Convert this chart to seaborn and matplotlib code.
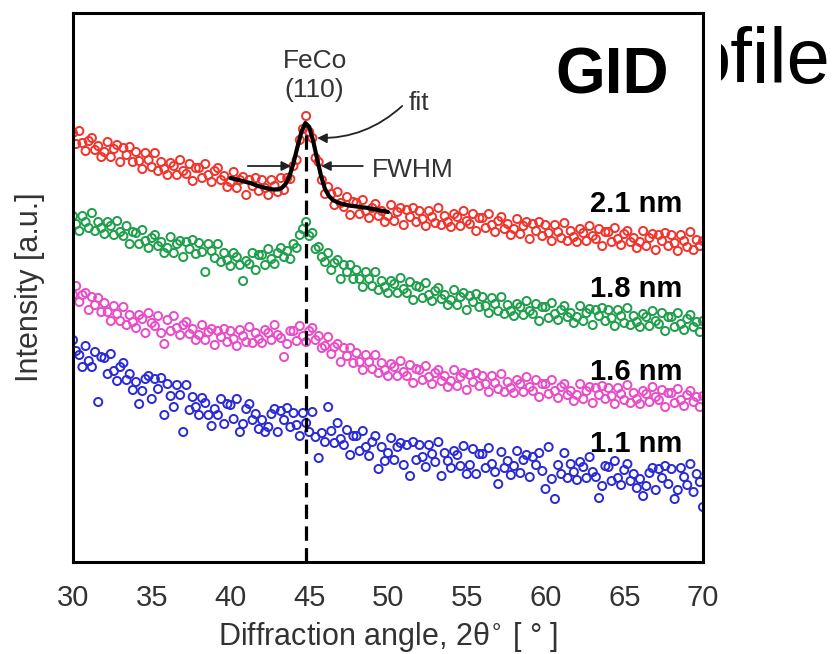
import numpy as np
import seaborn as sns
import matplotlib.pyplot as plt
from matplotlib.transforms import Bbox, TransformedBbox

sns.set_style("white")
plt.rcParams["font.family"] = ["Liberation Sans", "DejaVu Sans"]

# diffraction angle grid (deg), 0.2 deg steps
angle = np.round(np.linspace(30, 70, 201), 1)

# intensities (a.u.), each curve already offset vertically as in the figure
nm_21 = [
    429, 418, 431, 419, 411, 421, 424, 412, 416, 405,
    410, 420, 405, 413, 417, 400, 414, 407, 415, 400,
    410, 401, 393, 409, 402, 395, 409, 391, 400, 393,
    387, 399, 396, 387, 402, 391, 388, 398, 381, 394,
    394, 384, 398, 387, 380, 391, 394, 382, 386, 375,
    380, 390, 374, 382, 385, 367, 382, 376, 384, 371,
    382, 374, 367, 382, 376, 370, 384, 372, 384, 383,
    396, 402, 422, 433, 446, 430, 424, 404, 400, 382,
    368, 375, 368, 357, 370, 359, 355, 365, 347, 360,
    359, 348, 362, 351, 344, 354, 358, 346, 351, 340,
    346, 357, 341, 350, 354, 337, 352, 345, 354, 340,
    351, 343, 336, 351, 345, 339, 354, 337, 346, 340,
    335, 348, 345, 336, 351, 341, 338, 348, 331, 344,
    344, 334, 348, 337, 330, 341, 345, 333, 338, 327,
    333, 343, 328, 336, 340, 323, 338, 331, 340, 326,
    337, 329, 321, 337, 330, 324, 339, 321, 331, 325,
    320, 333, 329, 321, 336, 326, 323, 333, 316, 330,
    330, 320, 334, 323, 317, 328, 331, 320, 324, 314,
    320, 331, 316, 324, 328, 312, 327, 321, 329, 316,
    327, 319, 311, 327, 321, 315, 330, 312, 322, 316,
    321]

nm_18 = [
    346, 338, 331, 346, 340, 334, 349, 331, 340, 334,
    328, 340, 336, 327, 341, 330, 326, 336, 318, 330,
    329, 318, 332, 321, 314, 324, 327, 316, 320, 309,
    314, 325, 309, 318, 321, 305, 320, 313, 322, 308,
    319, 310, 290, 318, 311, 304, 318, 300, 309, 302,
    296, 309, 305, 297, 281, 301, 298, 309, 292, 307,
    307, 297, 313, 303, 298, 309, 314, 305, 311, 303,
    318, 314, 327, 333, 340, 326, 329, 313, 315, 305,
    300, 309, 292, 299, 302, 283, 297, 290, 297, 283,
    292, 283, 275, 290, 283, 276, 290, 272, 281, 275,
    269, 281, 278, 269, 284, 273, 269, 280, 262, 276,
    275, 264, 279, 267, 261, 271, 274, 263, 267, 257,
    262, 272, 257, 265, 269, 252, 266, 260, 268, 255,
    265, 256, 249, 264, 258, 251, 265, 248, 257, 251,
    246, 258, 255, 247, 261, 251, 248, 258, 241, 255,
    255, 244, 259, 248, 242, 252, 256, 245, 249, 239,
    245, 256, 241, 249, 253, 237, 252, 246, 254, 241,
    252, 244, 236, 252, 246, 239, 254, 237, 246, 240,
    235, 248, 245, 236, 251, 241, 238, 249, 231, 245,
    245, 235, 249, 238, 232, 243, 247, 235, 240, 230,
    241]

nm_16 = [
    267, 276, 260, 267, 269, 252, 265, 257, 264, 250,
    259, 250, 241, 256, 248, 241, 255, 237, 247, 240,
    234, 247, 243, 229, 249, 239, 236, 246, 229, 218,
    242, 231, 246, 234, 227, 237, 240, 228, 233, 222,
    227, 237, 222, 230, 233, 217, 231, 225, 233, 220,
    231, 223, 216, 232, 226, 220, 235, 219, 229, 223,
    219, 232, 229, 222, 237, 227, 224, 205, 218, 231,
    231, 221, 236, 226, 220, 231, 234, 222, 226, 214,
    216, 225, 208, 215, 218, 200, 214, 206, 214, 199,
    209, 200, 192, 207, 200, 193, 207, 189, 199, 192,
    186, 198, 195, 186, 201, 190, 186, 197, 179, 193,
    192, 182, 196, 185, 178, 189, 192, 181, 186, 175,
    181, 192, 176, 185, 189, 172, 187, 180, 189, 176,
    186, 178, 170, 186, 179, 173, 188, 170, 180, 174,
    169, 182, 178, 170, 185, 175, 171, 182, 165, 178,
    178, 168, 182, 171, 164, 175, 178, 167, 171, 161,
    167, 178, 163, 171, 175, 159, 174, 167, 176, 163,
    174, 166, 158, 174, 168, 162, 177, 159, 169, 163,
    158, 171, 168, 160, 175, 165, 162, 172, 155, 169,
    169, 159, 173, 162, 156, 167, 171, 160, 165, 155,
    166]

nm_11 = [
    222, 211, 207, 195, 216, 201, 195, 210, 160, 205,
    204, 188, 208, 191, 181, 195, 199, 182, 188, 172,
    180, 158, 171, 183, 186, 163, 183, 173, 184, 147,
    178, 166, 155, 177, 167, 130, 177, 152, 165, 155,
    147, 164, 159, 147, 136, 153, 147, 163, 138, 158,
    157, 143, 163, 130, 138, 153, 158, 142, 148, 133,
    142, 130, 135, 148, 153, 130, 151, 142, 154, 135,
    149, 137, 126, 149, 139, 130, 150, 125, 104, 129,
    120, 155, 131, 119, 139, 123, 117, 132, 107, 126,
    126, 111, 131, 115, 106, 120, 126, 93, 115, 101,
    109, 124, 102, 115, 119, 97, 117, 86, 120, 102,
    117, 105, 95, 117, 108, 100, 120, 86, 109, 101,
    94, 111, 107, 96, 116, 88, 97, 113, 88, 108,
    108, 94, 114, 98, 90, 78, 110, 94, 101, 87,
    96, 111, 89, 102, 107, 85, 105, 97, 109, 91,
    73, 115, 83, 63, 97, 88, 109, 84, 98, 90,
    82, 100, 95, 84, 105, 90, 85, 64, 76, 96,
    95, 81, 101, 84, 77, 92, 98, 81, 88, 74,
    83, 66, 76, 89, 94, 72, 93, 84, 96, 78,
    93, 63, 72, 94, 85, 77, 98, 70, 88, 80,
    55]

# peak fit on the 2.1 nm curve
fit_angle = np.round(np.linspace(40, 50, 41), 2)
fit_vals = [384, 383, 382, 381, 380, 379, 377.5, 376, 375, 374,
            373, 372.5, 372.5, 374, 378, 386, 399, 415, 430, 439,
            435, 421, 403, 386, 373, 366, 362, 360, 358.5, 357.5,
            356.5, 356, 355.5, 355, 354.5, 354, 353, 352.5, 351.5, 351,
            350]

peak_pos = 44.8
peak_top = 435

curves = [("2.1 nm", nm_21, "#f0342c"),
          ("1.8 nm", nm_18, "#1f9e4c"),
          ("1.6 nm", nm_16, "#e84cc6"),
          ("1.1 nm", nm_11, "#2a2ad6")]
label_base = {"2.1 nm": 350, "1.8 nm": 265, "1.6 nm": 182, "1.1 nm": 110}

fig = plt.figure(figsize=(8.34, 6.54), dpi=100)
ax = fig.add_axes([73 / 834, 1 - 562 / 654, 630 / 834, 549 / 654])

for name, vals, col in curves:
    sns.scatterplot(x=angle, y=vals, ax=ax, color=col, facecolors="none",
                    edgecolor=col, s=34, linewidth=1.4, legend=False, zorder=2)
    ax.text(68.7, label_base[name], name, ha="right", va="baseline",
            fontsize=21, fontweight="bold", color="black")

sns.lineplot(x=fit_angle, y=fit_vals, ax=ax, color="black", lw=3, zorder=3)
ax.vlines(peak_pos, 0, peak_top, colors="black", lw=2.3,
          linestyles=(0, (4.5, 2.3)), zorder=4)

txt = "#333333"
ax.text(45.35, 494, "FeCo", ha="center", va="baseline", fontsize=19, color=txt)
ax.text(45.3, 465, "(110)", ha="center", va="baseline", fontsize=19, color=txt)
ax.text(51.3, 452, "fit", ha="left", va="baseline", fontsize=19, color=txt)
ax.text(49.0, 385, "FWHM", ha="left", va="baseline", fontsize=19, color=txt)

arrow = dict(arrowstyle="-|>", color="#222222", lw=1.3, mutation_scale=14,
             shrinkA=0, shrinkB=0)
ax.annotate("", xy=(43.85, 396), xytext=(41.1, 396), arrowprops=arrow)
ax.annotate("", xy=(45.75, 396), xytext=(48.4, 396), arrowprops=arrow)
ax.annotate("", xy=(45.5, 424), xytext=(50.9, 456),
            arrowprops=dict(arrow, connectionstyle="arc3,rad=-0.2"))

ax.text(64.2, 468, "GID", ha="center", va="baseline", fontsize=46,
        fontweight="bold", color="black")

ax.set_xlim(30, 70)
ax.set_ylim(0, 549)
ax.set_xticks(range(30, 71, 5))
ax.set_yticks(np.arange(1, 7) * 78.4)
ax.tick_params(direction="inout", length=12, width=2.2, color="black",
               labelcolor=txt, labelsize=21, pad=10, labelleft=False)
for sp in ax.spines.values():
    sp.set_linewidth(2.2)
    sp.set_color("black")

ax.set_xlabel("Diffraction angle, 2θ$^{\\circ}$ [ ° ]", fontsize=22, color=txt)
ax.set_ylabel("Intensity [a.u.]", fontsize=22, color=txt)
ax.xaxis.set_label_coords(0.5, -0.105)
ax.yaxis.set_label_coords(-0.045, 0.5)

# slide title text peeking out behind the chart (only its tail is visible)
prof = fig.text(831 / 834, 1 - 83 / 654, "ofile", ha="right", va="baseline",
                fontsize=56, color="black")
prof.set_clip_box(TransformedBbox(Bbox.from_extents(721 / 834, 0, 1, 1),
                                  fig.transFigure))
prof.set_clip_on(True)

fig.savefig("out.png", dpi=100)
